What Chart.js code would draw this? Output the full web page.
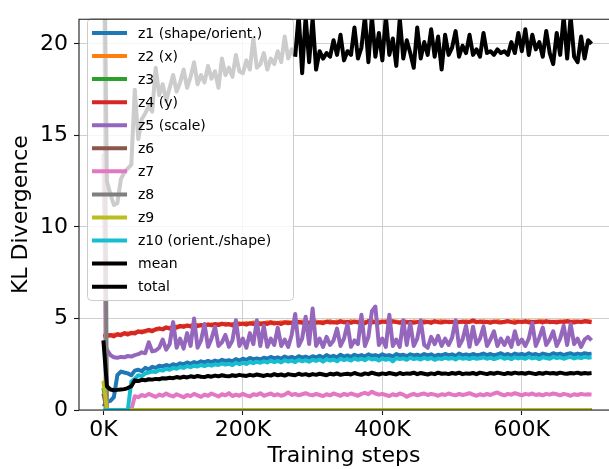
<!DOCTYPE html>
<html>
<head>
<meta charset="utf-8">
<script src="https://cdn.jsdelivr.net/npm/chart.js@4.4.0/dist/chart.umd.min.js"></script>
<style>
  body { margin: 0; background: #fff; }
  canvas { display: block; }
</style>
</head>
<body>
<canvas id="grafico" width="609" height="469"></canvas>
<script>
// training steps, in thousands
const steps = [
  0, 5, 10, 15, 20, 25, 30, 35, 40, 45,
  50, 55, 60, 65, 70, 75, 80, 85, 90, 95,
  100, 105, 110, 115, 120, 125, 130, 135, 140, 145,
  150, 155, 160, 165, 170, 175, 180, 185, 190, 195,
  200, 205, 210, 215, 220, 225, 230, 235, 240, 245,
  250, 255, 260, 265, 270, 275, 280, 285, 290, 295,
  300, 305, 310, 315, 320, 325, 330, 335, 340, 345,
  350, 355, 360, 365, 370, 375, 380, 385, 390, 395,
  400, 405, 410, 415, 420, 425, 430, 435, 440, 445,
  450, 455, 460, 465, 470, 475, 480, 485, 490, 495,
  500, 505, 510, 515, 520, 525, 530, 535, 540, 545,
  550, 555, 560, 565, 570, 575, 580, 585, 590, 595,
  600, 605, 610, 615, 620, 625, 630, 635, 640, 645,
  650, 655, 660, 665, 670, 675, 680, 685, 690, 695,
  700
];
// series that sit at zero after the first step
const flatSteps = [0, 5, 700];

const z1 = [
  0.2, 0.45, 0.5, 0.7, 1.9, 2.1, 2.05, 2.0, 1.9, 2.15,
  2.2, 2.12, 2.3, 2.22, 2.36, 2.3, 2.42, 2.38, 2.46, 2.4,
  2.5, 2.44, 2.55, 2.5, 2.6, 2.52, 2.62, 2.56, 2.66, 2.6,
  2.68, 2.62, 2.7, 2.64, 2.74, 2.68, 2.72, 2.66, 2.78, 2.7,
  2.8, 2.74, 2.84, 2.78, 2.82, 2.76, 2.86, 2.8, 2.9, 2.82,
  2.88, 2.8, 2.92, 2.84, 2.9, 2.82, 2.94, 2.86, 2.92, 2.84,
  2.94, 2.88, 2.96, 2.86, 3.0, 2.9, 2.96, 2.88, 3.02, 2.92,
  2.98, 2.9, 3.02, 2.94, 3.0, 2.92, 3.04, 2.96, 3.0, 2.94,
  3.04, 2.96, 3.0, 2.92, 3.06, 2.98, 3.02, 2.94, 3.04, 2.98,
  3.02, 2.96, 3.06, 2.98, 3.04, 2.94, 3.02, 2.98, 3.06, 3.0,
  3.04, 2.96, 3.08, 3.0, 3.04, 2.98, 3.06, 3.0, 3.02, 3.08,
  3.0, 3.06, 2.98, 3.04, 3.1, 3.0, 3.06, 2.98, 3.08, 3.02,
  3.06, 3.0, 3.1, 3.02, 3.06, 2.98, 3.08, 3.04, 3.0, 3.1,
  3.04, 3.08, 3.0, 3.06, 3.1, 3.02, 3.08, 3.04, 3.1, 3.06,
  3.08
];
const z2 = [
  4.05, 4.1, 4.06, 4.12, 4.1, 4.14, 4.18, 4.2, 4.18, 4.24,
  4.26, 4.3, 4.28, 4.34, 4.36, 4.38, 4.42, 4.44, 4.48, 4.5,
  4.52, 4.56, 4.55, 4.6, 4.58, 4.62, 4.6, 4.65, 4.62, 4.66,
  4.64, 4.68, 4.66, 4.7, 4.68, 4.72, 4.66, 4.7, 4.7, 4.74,
  4.7, 4.76, 4.72, 4.78, 4.72, 4.76, 4.72, 4.8, 4.74, 4.78,
  4.74, 4.8, 4.76, 4.82, 4.74, 4.8, 4.78, 4.84, 4.76, 4.8,
  4.78, 4.84, 4.76, 4.82, 4.8, 4.86, 4.78, 4.84, 4.8, 4.84,
  4.78, 4.86, 4.8, 4.84, 4.78, 4.82, 4.8, 4.88, 4.78, 4.84,
  4.8, 4.86, 4.82, 4.8, 4.84, 4.8, 4.86, 4.82, 4.78, 4.84,
  4.82, 4.8, 4.86, 4.8, 4.84, 4.8, 4.84, 4.86, 4.8, 4.84,
  4.8, 4.84, 4.82, 4.8, 4.86, 4.8, 4.84, 4.82, 4.8, 4.86,
  4.8, 4.84, 4.8, 4.86, 4.82, 4.8, 4.84, 4.82, 4.86, 4.8,
  4.84, 4.8, 4.86, 4.8, 4.84, 4.82, 4.86, 4.8, 4.84, 4.8,
  4.84, 4.8, 4.86, 4.82, 4.8, 4.86, 4.8, 4.84, 4.82, 4.86,
  4.82
];
const z3 = [1.2, 0, 0];
const z4 = [
  4.0, 4.05, 4.1, 4.02, 4.15, 4.08, 4.2, 4.12, 4.22, 4.18,
  4.3, 4.24, 4.32, 4.38, 4.3, 4.42, 4.46, 4.4, 4.52, 4.45,
  4.55, 4.5, 4.6, 4.54, 4.62, 4.56, 4.66, 4.58, 4.64, 4.6,
  4.68, 4.62, 4.7, 4.64, 4.72, 4.66, 4.7, 4.62, 4.74, 4.68,
  4.72, 4.66, 4.74, 4.7, 4.78, 4.68, 4.75, 4.7, 4.8, 4.72,
  4.76, 4.7, 4.8, 4.74, 4.78, 4.72, 4.82, 4.76, 4.8, 4.74,
  4.82, 4.76, 4.8, 4.74, 4.84, 4.78, 4.8, 4.76, 4.86, 4.78,
  4.82, 4.76, 4.84, 4.78, 4.8, 4.74, 4.86, 4.78, 4.82, 4.76,
  4.84, 4.8, 4.78, 4.86, 4.8, 4.76, 4.84, 4.78, 4.82, 4.76,
  4.8, 4.84, 4.78, 4.82, 4.76, 4.86, 4.8, 4.78, 4.84, 4.8,
  4.82, 4.76, 4.8, 4.84, 4.78, 4.82, 4.9, 4.8, 4.84, 4.78,
  4.82, 4.76, 4.84, 4.8, 4.78, 4.82, 4.86, 4.8, 4.76, 4.84,
  4.8, 4.86, 4.78, 4.82, 4.8, 4.84, 4.78, 4.86, 4.8, 4.82,
  4.78, 4.84, 4.8, 4.86, 4.82, 4.78, 4.84, 4.8, 4.86, 4.82,
  4.8
];
const z5 = [
  3.75, 3.3, 3.0, 2.88, 2.85, 2.9, 2.88, 2.95, 2.92, 3.0,
  3.05, 3.15, 3.1, 3.7, 3.2, 3.25, 3.4, 3.85, 3.3, 3.6,
  4.8, 3.4, 3.9, 3.35, 4.2, 3.5, 5.0, 3.4, 3.8, 4.7,
  3.45, 3.9, 4.55, 3.5, 3.7, 4.1, 3.45, 3.8, 4.9, 3.5,
  3.9, 3.4, 4.2, 3.6, 4.9, 3.5, 4.6, 3.45, 3.9, 3.55,
  4.5, 3.5, 3.85, 3.45, 4.1, 5.25, 3.5, 3.9, 5.1, 3.6,
  5.55, 3.5, 3.9, 3.45, 4.0, 3.55, 3.8, 4.45, 3.5, 3.9,
  4.7, 3.45, 3.8, 3.6, 5.2, 3.5, 4.0, 5.4, 5.65, 3.55,
  3.9, 3.45, 5.2, 3.5, 3.85, 3.45, 4.9, 3.55, 4.75, 3.5,
  3.9, 4.9, 3.55, 3.4, 4.0, 3.6, 4.05, 3.5, 3.9, 3.55,
  3.95, 4.9, 3.5, 3.85, 4.6, 3.45, 4.55, 3.6, 3.9, 4.55,
  3.5, 3.85, 4.3, 3.5, 3.9, 3.55, 3.95, 3.45, 4.3, 3.6,
  3.85, 3.5, 3.9, 4.75, 3.5, 3.95, 4.5, 3.55, 3.85, 4.3,
  3.5, 3.9, 4.6, 3.55, 4.7, 3.6, 3.9, 3.45, 3.85, 4.0,
  3.8
];
const z6 = [0.9, 0, 0];
const z7 = [
  14, 0, 0, 0, 0, 0, 0, 0, 0, 0.75,
  0.7, 0.82, 0.76, 0.88, 0.8, 0.72, 0.84, 0.78, 0.9, 0.8,
  0.74, 0.86, 0.78, 0.7, 0.82, 0.76, 0.88, 0.8, 0.72, 0.84,
  0.78, 0.9, 0.82, 0.74, 0.86, 0.8, 0.92, 0.76, 0.84, 0.78,
  0.88, 0.8, 0.74, 0.86, 0.82, 0.92, 0.78, 0.84, 0.9, 0.8,
  0.86, 0.78, 0.84, 0.96, 0.82, 0.88, 0.8, 0.86, 0.92, 0.84,
  0.8, 0.88, 0.82, 0.76, 0.86, 0.8, 0.9, 0.84, 0.78, 0.88,
  0.82, 0.9, 0.84, 0.78, 0.88, 0.94, 0.86, 1.0, 0.9, 0.84,
  0.88, 0.82, 0.76, 0.86, 0.8, 0.9, 0.84, 0.72, 0.82, 0.88,
  0.8, 0.86, 0.9, 0.82, 0.88, 0.84, 0.78, 0.86, 0.82, 0.9,
  0.84, 0.8, 0.88, 0.82, 0.86, 0.92, 0.84, 0.78, 0.86, 0.8,
  0.88, 0.82, 0.9, 0.96, 0.86, 0.8, 0.88, 0.84, 0.92, 0.86,
  0.8, 0.88, 0.84, 0.9, 0.82, 0.86, 0.8, 0.88, 0.84, 0.9,
  0.86, 0.8, 0.88, 0.84, 0.78, 0.86, 0.82, 0.88, 0.84, 0.86,
  0.84
];
const z8 = [30, 0, 0];
const z9 = [1.6, 0, 0];
const z10 = [
  0, 0, 0, 0, 0, 0, 0, 0, 1.55, 1.7,
  1.9, 1.85, 2.0, 2.05, 2.1, 2.08, 2.18, 2.15, 2.25, 2.2,
  2.3, 2.25, 2.35, 2.3, 2.4, 2.34, 2.42, 2.38, 2.46, 2.4,
  2.48, 2.42, 2.5, 2.46, 2.54, 2.48, 2.52, 2.46, 2.58, 2.5,
  2.58, 2.52, 2.62, 2.56, 2.64, 2.58, 2.66, 2.6, 2.7, 2.62,
  2.68, 2.6, 2.72, 2.64, 2.7, 2.62, 2.74, 2.66, 2.72, 2.64,
  2.74, 2.68, 2.76, 2.64, 2.78, 2.7, 2.76, 2.66, 2.8, 2.72,
  2.78, 2.7, 2.82, 2.74, 2.8, 2.72, 2.84, 2.76, 2.8, 2.7,
  2.82, 2.74, 2.8, 2.66, 2.84, 2.78, 2.82, 2.74, 2.86, 2.78,
  2.82, 2.76, 2.86, 2.78, 2.84, 2.74, 2.82, 2.78, 2.86, 2.8,
  2.84, 2.76, 2.88, 2.8, 2.84, 2.78, 2.86, 2.8, 2.82, 2.88,
  2.8, 2.86, 2.78, 2.84, 2.9, 2.8, 2.86, 2.78, 2.88, 2.82,
  2.86, 2.8, 2.9, 2.82, 2.86, 2.78, 2.88, 2.84, 2.8, 2.9,
  2.84, 2.88, 2.8, 2.86, 2.9, 2.82, 2.88, 2.84, 2.9, 2.86,
  2.88
];
const mean = [
  3.8, 1.3, 1.12, 1.08, 1.1, 1.12, 1.14, 1.2, 1.3, 1.62,
  1.58, 1.65, 1.62, 1.68, 1.66, 1.7, 1.68, 1.74, 1.72, 1.76,
  1.74, 1.8, 1.76, 1.82, 1.78, 1.84, 1.8, 1.86, 1.82, 1.8,
  1.86, 1.82, 1.88, 1.84, 1.9, 1.86, 1.84, 1.9, 1.86, 1.92,
  1.88, 1.86, 1.92, 1.88, 1.94, 1.9, 1.86, 1.92, 1.88, 1.96,
  1.9, 1.94, 1.88, 1.96, 1.92, 1.9, 1.98, 1.92, 1.96, 1.9,
  1.96, 1.92, 1.98, 1.94, 1.9, 1.98, 1.94, 2.0, 1.92, 1.96,
  1.98, 1.94, 2.02, 1.96, 1.92, 2.0, 1.96, 2.04, 1.98, 1.94,
  2.0, 1.96, 2.02, 1.98, 1.94, 2.02, 1.96, 2.0, 1.98, 2.04,
  1.96, 2.02, 1.98, 1.94, 2.0, 1.96, 2.04, 1.98, 2.0, 1.96,
  2.02, 1.98, 2.04, 1.96, 2.0, 1.98, 2.02, 1.96, 2.04, 2.0,
  1.96, 2.02, 1.98, 2.04, 2.0, 1.96, 2.02, 1.98, 2.04, 2.0,
  2.02, 1.98, 2.04, 2.0, 1.96, 2.02, 1.98, 2.04, 2.0, 2.02,
  1.98, 2.04, 2.0, 1.98, 2.02, 2.0, 2.04, 1.98, 2.02, 2.0,
  2.02
];
const total = [
  30, 12.5, 11.8, 11.2, 11.3, 12.6, 13.0, 13.2, 13.4, 17.5,
  14.8, 15.9, 16.2, 16.6, 16.3, 18.7, 17.2, 17.8, 16.9, 17.6,
  18.3, 17.4, 17.9, 18.6, 17.6, 18.2, 19.0, 17.8, 18.3, 17.9,
  18.8, 18.1, 18.5, 17.6, 19.2, 18.3, 18.7, 18.2, 19.4, 18.5,
  18.4, 19.1, 18.6, 20.3, 18.7, 18.9, 19.5, 18.6, 19.2, 18.9,
  19.6, 19.0, 20.4, 19.2, 19.7, 19.3, 21.6, 18.4, 21.5, 19.0,
  21.4, 18.6, 19.6, 19.2, 19.5, 19.3, 20.2, 19.4, 20.5, 19.1,
  19.6, 19.4, 20.9, 19.2, 19.8, 21.5, 19.0, 21.5, 19.3, 20.6,
  19.1, 21.5, 19.4, 20.3, 18.8, 21.4, 19.2, 20.2, 19.5, 18.7,
  20.9, 19.2, 20.1, 19.4, 20.8, 19.3, 20.4, 18.6, 20.5, 19.4,
  19.8, 20.7, 19.3, 19.9, 19.5, 20.5, 19.4, 19.7, 19.3, 20.6,
  19.5, 19.6, 19.4, 19.7, 19.5, 19.6, 19.4, 20.1, 19.5, 20.6,
  19.6, 20.8, 19.4, 20.5, 19.7, 20.1, 19.3, 20.7, 19.5, 18.9,
  20.6, 19.4, 21.5, 19.2, 21.5, 19.3, 19.0, 20.4, 19.2, 20.2,
  20.0
];
// the total line turns black from this step on (in thousands)
const totalBlackFrom = 275;

const xTicks = [0, 200, 400, 600];
const yTicks = [0, 5, 10, 15, 20];

const series = [
  { label: 'z1 (shape/orient.)', x: steps, y: z1, color: '#1f77b4' },
  { label: 'z2 (x)', x: steps, y: z2, color: '#ff7f0e' },
  { label: 'z3', x: flatSteps, y: z3, color: '#2ca02c' },
  { label: 'z4 (y)', x: steps, y: z4, color: '#d62728' },
  { label: 'z5 (scale)', x: steps, y: z5, color: '#9467bd' },
  { label: 'z6', x: flatSteps, y: z6, color: '#8c564b' },
  { label: 'z7', x: steps, y: z7, color: '#e377c2' },
  { label: 'z8', x: flatSteps, y: z8, color: '#7f7f7f' },
  { label: 'z9', x: flatSteps, y: z9, color: '#bcbd22' },
  { label: 'z10 (orient./shape)', x: steps, y: z10, color: '#17becf' },
  { label: 'mean', x: steps, y: mean, color: '#000000' },
  { label: 'total', x: steps, y: total, color: '#000000' }
];

const fonte = 'DejaVu Sans';
const ultimo = series.length - 1;

function caixaLegenda(ctx) {
  ctx.save();
  ctx.beginPath();
  ctx.roundRect(87.5, 18.5, 206, 282, 4);
  ctx.fillStyle = 'rgba(255,255,255,0.8)';
  ctx.fill();
  ctx.strokeStyle = '#cccccc';
  ctx.lineWidth = 1;
  ctx.stroke();
  ctx.restore();
}

const moldura = {
  id: 'moldura',
  beforeDatasetDraw(chart, args) {
    if (args.index === ultimo) caixaLegenda(chart.ctx);
  },
  afterDatasetsDraw(chart) {
    const ctx = chart.ctx;
    const a = chart.chartArea;
    ctx.save();
    ctx.strokeStyle = '#1a1a1a';
    ctx.lineWidth = 1.1;
    ctx.beginPath();
    ctx.moveTo(a.left, a.bottom);
    ctx.lineTo(a.left, a.top);
    ctx.lineTo(a.right + 2, a.top);
    ctx.moveTo(a.left, a.bottom);
    ctx.lineTo(a.right + 2, a.bottom);
    ctx.stroke();
    ctx.restore();
  },
  afterDraw(chart) {
    const ctx = chart.ctx;
    ctx.save();
    ctx.font = '14px "' + fonte + '"';
    ctx.textAlign = 'left';
    ctx.textBaseline = 'middle';
    ctx.fillStyle = '#000';
    chart.data.datasets.forEach(function(ds, i) {
      const y = 33 + i * 23.06;
      ctx.strokeStyle = ds.borderColor;
      ctx.lineWidth = 4;
      ctx.lineCap = 'butt';
      ctx.beginPath();
      ctx.moveTo(92, y);
      ctx.lineTo(127, y);
      ctx.stroke();
      ctx.fillText(ds.label, 138, y + 1);
    });
    ctx.restore();
  }
};

const datasets = series.map(function(s, i) {
  const ds = {
    label: s.label,
    data: s.x.map(function(v, j) { return { x: v, y: s.y[j] }; }),
    borderColor: s.color,
    backgroundColor: s.color,
    borderWidth: 4,
    borderJoinStyle: 'round',
    pointRadius: 0,
    tension: 0,
    clip: 0,
    order: -i
  };
  if (i === ultimo) {
    ds.segment = {
      borderColor: function(c) { return c.p0.parsed.x < totalBlackFrom ? '#cccccc' : '#000000'; }
    };
  }
  return ds;
});

var grafico = document.getElementById('grafico').getContext('2d');

var meugrafico = new Chart(grafico, {
  type: 'line',
  data: { datasets: datasets },
  plugins: [moldura],
  options: {
    responsive: false,
    animation: false,
    events: [],
    layout: { padding: { top: 11, right: 0, left: 0, bottom: 0 } },
    plugins: { legend: { display: false }, tooltip: { enabled: false } },
    scales: {
      x: {
        type: 'linear',
        min: -35,
        max: 725,
        afterFit: function(s) { s.height = 59; },
        afterBuildTicks: function(s) { s.ticks = xTicks.map(function(v) { return { value: v }; }); },
        ticks: {
          color: '#000',
          font: { family: fonte, size: 22 },
          padding: 2,
          maxRotation: 0,
          callback: function(v) { return v + 'K'; }
        },
        grid: { color: '#cfcfcf', lineWidth: 1, tickLength: 5, tickColor: '#1a1a1a', tickWidth: 1.1 },
        border: { display: false },
        title: {
          display: true,
          text: 'Training steps',
          color: '#000',
          font: { family: fonte, size: 22 },
          padding: { top: 0, bottom: 0 }
        }
      },
      y: {
        min: 0,
        max: 21.35,
        afterFit: function(s) { s.width = 79; },
        afterBuildTicks: function(s) { s.ticks = yTicks.map(function(v) { return { value: v }; }); },
        ticks: {
          color: '#000',
          font: { family: fonte, size: 22 },
          padding: 6
        },
        grid: { color: '#cfcfcf', lineWidth: 1, tickLength: 5, tickColor: '#1a1a1a', tickWidth: 1.1 },
        border: { display: false },
        title: {
          display: true,
          text: 'KL Divergence',
          color: '#000',
          font: { family: fonte, size: 22 },
          padding: { top: 8, bottom: 0 }
        }
      }
    }
  }
});
</script>
</body>
</html>
